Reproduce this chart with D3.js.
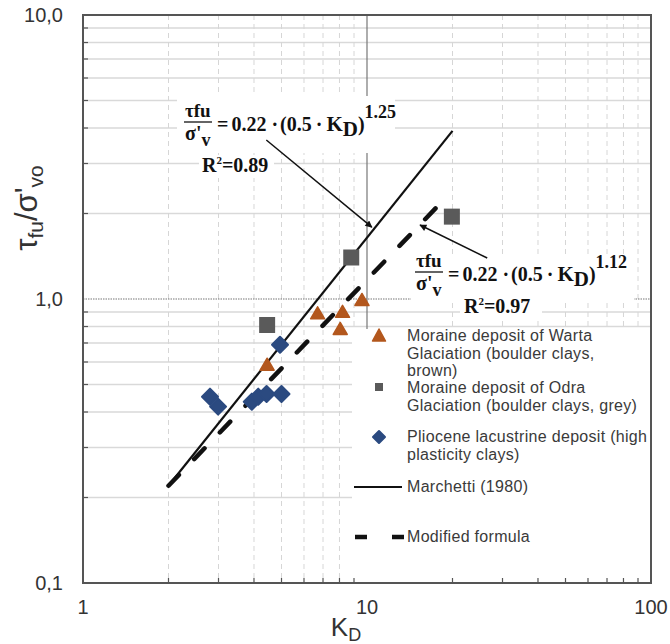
<!DOCTYPE html>
<html>
<head>
<meta charset="utf-8">
<title>tau_fu / sigma'vo vs KD</title>
<style>
  body { margin: 0; background: #fff; }
  svg text { font-family: "Liberation Sans", Arial, sans-serif; }
  .eq text { font-family: "Liberation Serif", "Times New Roman", serif; font-weight: bold; fill: #111; }
</style>
</head>
<body>
<div id="chart"></div>
<script src="https://d3js.org/d3.v7.min.js"></script>
<script>
// Moraine deposit of Warta Glaciation (brown triangles)
var wartaKD = [4.45, 6.7, 8.2, 8.05, 9.6];
var wartaRatio = [0.58, 0.88, 0.89, 0.775, 0.98];
// Moraine deposit of Odra Glaciation (grey squares)
var odraKD = [4.45, 8.8, 19.9];
var odraRatio = [0.81, 1.40, 1.95];
// Pliocene lacustrine deposit (blue diamonds)
var plioKD = [2.8, 2.99, 3.93, 4.14, 4.43, 5.0, 4.94];
var plioRatio = [0.453, 0.418, 0.435, 0.453, 0.463, 0.463, 0.69];
// Marchetti (1980) and modified formula, end points
var marchettiKD = [2, 20];
var marchettiRatio = [0.22, 3.91];
var modifiedKD = [2, 18.2];
var modifiedRatio = [0.22, 2.18];

var xTickValues = [1, 10, 100];
var xTickLabels = ["1", "10", "100"];
var yTickValues = [0.1, 1, 10];
var yTickLabels = ["0,1", "1,0", "10,0"];

// arrows [KD, ratio]
var arrow1 = [[4.42, 3.63], [10.4, 1.79]];
var arrow2 = [[26.5, 1.394], [15.37, 1.822]];

var W = 670, H = 644;
var pLeft = 83, pRight = 651, pTop = 15, pBottom = 583;

var svg = d3.select("#chart").append("svg")
    .attr("width", W).attr("height", H);

svg.append("defs").append("marker")
    .attr("id", "arrow")
    .attr("viewBox", "0 0 10 10")
    .attr("refX", 9).attr("refY", 5)
    .attr("markerWidth", 9).attr("markerHeight", 7)
    .attr("markerUnits", "userSpaceOnUse")
    .attr("orient", "auto")
    .append("path").attr("d", "M0,0 L10,5 L0,10 Z").attr("fill", "#111");

var x = d3.scaleLog().domain([1, 100]).range([pLeft, pRight]);
var y = d3.scaleLog().domain([0.1, 10]).range([pBottom, pTop]);

var xMinor = x.ticks().filter(function (d) { return xTickValues.indexOf(d) < 0; });
var yMinor = y.ticks().filter(function (d) { return yTickValues.indexOf(d) < 0; });

// gridlines
var grid = svg.append("g");
grid.selectAll(".hg").data(yMinor).enter().append("line")
    .attr("x1", pLeft).attr("x2", pRight)
    .attr("y1", function (d) { return y(d); }).attr("y2", function (d) { return y(d); })
    .attr("stroke", "#d9d9d9").attr("stroke-width", 1.5);
grid.selectAll(".vg").data(xMinor).enter().append("line")
    .attr("x1", function (d) { return x(d); }).attr("x2", function (d) { return x(d); })
    .attr("y1", pTop).attr("y2", pBottom)
    .attr("stroke", "#d6d6d6").attr("stroke-width", 1).attr("stroke-dasharray", "5,4");
// major gridlines
grid.append("line")
    .attr("x1", pLeft).attr("x2", pRight).attr("y1", y(1)).attr("y2", y(1))
    .attr("stroke", "#777").attr("stroke-width", 1.2).attr("stroke-dasharray", "1.5,1");
grid.append("line")
    .attr("x1", x(10)).attr("x2", x(10)).attr("y1", pTop).attr("y2", pBottom)
    .attr("stroke", "#777").attr("stroke-width", 1.2);

// white boxes of the text objects
var boxes = [
    [177, 96, 218, 57],   // eq 1
    [199, 155, 75, 23],   // R2 1
    [411, 257, 223, 45],  // eq 2
    [460, 302, 82, 18],   // R2 2
    [352, 329, 299, 254]  // legend
];
svg.append("g").selectAll("rect").data(boxes).enter().append("rect")
    .attr("x", function (d) { return d[0]; }).attr("y", function (d) { return d[1]; })
    .attr("width", function (d) { return d[2]; }).attr("height", function (d) { return d[3]; })
    .attr("fill", "#fff");

// frame and inner ticks
svg.append("rect")
    .attr("x", pLeft).attr("y", pTop).attr("width", pRight - pLeft).attr("height", pBottom - pTop)
    .attr("fill", "none").attr("stroke", "#555").attr("stroke-width", 2);
svg.append("g").selectAll("line").data(xMinor).enter().append("line")
    .attr("x1", function (d) { return x(d); }).attr("x2", function (d) { return x(d); })
    .attr("y1", pBottom).attr("y2", pBottom - 5)
    .attr("stroke", "#555").attr("stroke-width", 1.2);
svg.append("g").selectAll("line").data(yMinor).enter().append("line")
    .attr("x1", pLeft).attr("x2", pLeft + 5)
    .attr("y1", function (d) { return y(d); }).attr("y2", function (d) { return y(d); })
    .attr("stroke", "#555").attr("stroke-width", 1.2);

// tick labels
svg.append("g").selectAll("text").data(yTickValues).enter().append("text")
    .attr("x", 63).attr("y", function (d) { return y(d) + 7; })
    .attr("text-anchor", "end").attr("font-size", 20).attr("fill", "#333")
    .text(function (d, i) { return yTickLabels[i]; });
svg.append("g").selectAll("text").data(xTickValues).enter().append("text")
    .attr("x", function (d) { return x(d); }).attr("y", 614)
    .attr("text-anchor", "middle").attr("font-size", 20).attr("fill", "#333")
    .text(function (d, i) { return xTickLabels[i]; });

// axis titles
var xt = svg.append("text").attr("x", 346).attr("y", 636)
    .attr("text-anchor", "middle").attr("fill", "#333").attr("font-size", 26);
xt.append("tspan").text("K");
xt.append("tspan").attr("font-size", 18).attr("dy", 5).text("D");

var yt = svg.append("text")
    .attr("transform", "translate(37,208) rotate(-90)")
    .attr("text-anchor", "middle").attr("fill", "#333").attr("font-size", 31);
yt.append("tspan").text("τ");
yt.append("tspan").attr("font-size", 21).attr("dy", 6).text("fu");
yt.append("tspan").attr("dy", -6).text("/σ'");
yt.append("tspan").attr("font-size", 21).attr("dy", 6).text("vo");

// fit lines
var line = d3.line()
    .x(function (d) { return x(d[0]); })
    .y(function (d) { return y(d[1]); });
svg.append("path")
    .datum(marchettiKD.map(function (k, i) { return [k, marchettiRatio[i]]; }))
    .attr("d", line).attr("fill", "none").attr("stroke", "#111").attr("stroke-width", 2.2);
svg.append("path")
    .datum(modifiedKD.map(function (k, i) { return [k, modifiedRatio[i]]; }))
    .attr("d", line).attr("fill", "none").attr("stroke", "#111").attr("stroke-width", 4.5)
    .attr("stroke-dasharray", "15,22").attr("stroke-linecap", "round");

// marker shapes
function tri(cx, cy, w, h) {
    return "M" + cx + "," + (cy - h * 2 / 3) + "L" + (cx + w / 2) + "," + (cy + h / 3) +
        "L" + (cx - w / 2) + "," + (cy + h / 3) + "Z";
}
function dia(cx, cy, r) {
    return "M" + cx + "," + (cy - r) + "L" + (cx + r) + "," + cy + "L" + cx + "," + (cy + r) +
        "L" + (cx - r) + "," + cy + "Z";
}
var brown = "#b3571d", grey = "#5a5a5a", navy = "#2b4a80";

svg.append("g").selectAll("path").data(plioKD).enter().append("path")
    .attr("d", function (d, i) { return dia(x(d), y(plioRatio[i]), 8); })
    .attr("fill", navy).attr("stroke", navy).attr("stroke-width", 2).attr("stroke-linejoin", "round");
svg.append("g").selectAll("rect").data(odraKD).enter().append("rect")
    .attr("x", function (d) { return x(d) - 8; })
    .attr("y", function (d, i) { return y(odraRatio[i]) - 8; })
    .attr("width", 16).attr("height", 16).attr("fill", grey);
svg.append("g").selectAll("path").data(wartaKD).enter().append("path")
    .attr("d", function (d, i) { return tri(x(d), y(wartaRatio[i]), 14, 12); })
    .attr("fill", brown).attr("stroke", brown).attr("stroke-width", 1.5).attr("stroke-linejoin", "round");

// arrows
[arrow1, arrow2].forEach(function (a) {
    svg.append("line")
        .attr("x1", x(a[0][0])).attr("y1", y(a[0][1]))
        .attr("x2", x(a[1][0])).attr("y2", y(a[1][1]))
        .attr("stroke", "#111").attr("stroke-width", 1.5)
        .attr("marker-end", "url(#arrow)");
});

// equations
function equation(x0, barY, expo, r2, r2x, r2y) {
    var g = svg.append("g").attr("class", "eq");
    g.append("text").attr("x", x0 + 1).attr("y", barY - 5).attr("font-size", 19).text("τfu");
    g.append("line").attr("x1", x0).attr("x2", x0 + 28).attr("y1", barY).attr("y2", barY)
        .attr("stroke", "#111").attr("stroke-width", 1.3);
    var den = g.append("text").attr("x", x0 + 1).attr("y", barY + 18).attr("font-size", 20);
    den.append("tspan").text("σ'");
    den.append("tspan").attr("dy", 6).attr("font-size", 18).text("v");
    var t = g.append("text").attr("x", x0 + 33).attr("y", barY + 9).attr("font-size", 20);
    t.append("tspan").text("=");
    t.append("tspan").attr("dx", 3).text("0.22");
    t.append("tspan").attr("dx", 5).text("·");
    t.append("tspan").attr("dx", 2).text("(0.5");
    t.append("tspan").attr("dx", 4).text("·");
    t.append("tspan").attr("dx", 4).attr("font-size", 21).text("K");
    t.append("tspan").attr("dy", 5).attr("font-size", 21).text("D");
    t.append("tspan").attr("dy", -5).text(")");
    t.append("tspan").attr("dy", -13).attr("font-size", 18).text(expo);
    var r = g.append("text").attr("x", r2x).attr("y", r2y).attr("font-size", 20);
    r.append("tspan").text("R");
    r.append("tspan").attr("dy", -8).attr("font-size", 11).text("2");
    r.append("tspan").attr("dy", 8).text("=" + r2);
}
equation(184, 122, "1.25", "0.89", 202, 172);
equation(415, 272, "1.12", "0.97", 464, 313);

// legend
var lx = 407;
var legendText = [
    [["Moraine deposit of Warta", "Glaciation (boulder clays,", "brown)"], 341],
    [["Moraine deposit of Odra", "Glaciation (boulder clays, grey)"], 393],
    [["Pliocene lacustrine deposit (high", "plasticity clays)"], 442],
    [["Marchetti (1980)"], 492],
    [["Modified formula"], 542]
];
legendText.forEach(function (e) {
    e[0].forEach(function (s, j) {
        svg.append("text").attr("x", lx).attr("y", e[1] + j * 17.5)
            .attr("font-size", 16).attr("letter-spacing", 0.3).attr("fill", "#3a3a3a").text(s);
    });
});
svg.append("path").attr("d", tri(379, 337, 13, 12)).attr("fill", brown)
    .attr("stroke", brown).attr("stroke-width", 1.5).attr("stroke-linejoin", "round");
svg.append("rect").attr("x", 375).attr("y", 383).attr("width", 8).attr("height", 8).attr("fill", grey);
svg.append("path").attr("d", dia(379, 437, 6)).attr("fill", navy)
    .attr("stroke", navy).attr("stroke-width", 2).attr("stroke-linejoin", "round");
svg.append("line").attr("x1", 354).attr("x2", 402).attr("y1", 487).attr("y2", 487)
    .attr("stroke", "#111").attr("stroke-width", 2.2);
svg.append("line").attr("x1", 355).attr("x2", 404).attr("y1", 537).attr("y2", 537)
    .attr("stroke", "#111").attr("stroke-width", 4.5).attr("stroke-dasharray", "12,25");
</script>
</body>
</html>
